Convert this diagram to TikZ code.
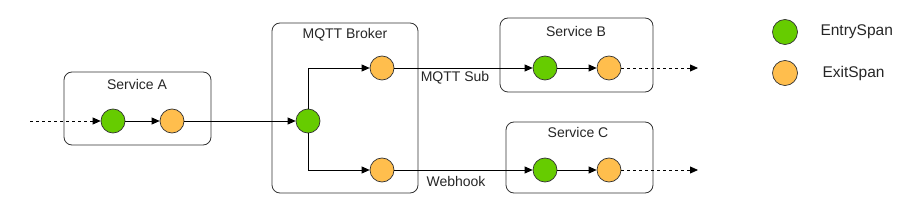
\documentclass[tikz,border=0pt]{standalone}
\usepackage{fontspec}
\setmainfont{Liberation Sans}
\usetikzlibrary{arrows.meta}
\definecolor{entryc}{HTML}{66CC00}
\definecolor{exitc}{HTML}{FFBE4D}
\begin{document}
\begin{tikzpicture}[x=1pt,y=-1pt,
  every node/.style={font=\fontsize{14}{16}\selectfont, text=black!85},
  legtext/.style={anchor=west, font=\fontsize{15.5}{18}\selectfont},
  svc/.style={draw=black!80, line width=0.8pt, rounded corners=8pt},
  entry/.style={circle, draw=black!80, line width=0.7pt, fill=entryc, minimum size=24pt, inner sep=0pt},
  exitsp/.style={circle, draw=black!80, line width=0.7pt, fill=exitc, minimum size=24pt, inner sep=0pt},
  conn/.style={draw=black, line width=0.8pt, -{Triangle[length=8pt,width=7pt]}},
  dconn/.style={conn, dashed, dash pattern=on 3pt off 3pt}]
\useasboundingbox (0,0) rectangle (905,211);
% boxes
\draw[svc] (64,72) rectangle (211,145);
\node at (137,84) {Service A};
\draw[svc] (272,23) rectangle (418,193);
\node at (345,35) {MQTT Broker};
\draw[svc] (500,18) rectangle (653,92);
\node at (576,31) {Service B};
\draw[svc] (506,122) rectangle (653,193);
\node at (578,132) {Service C};
% spans
\coordinate (start) at (30,121);
\node[entry] (ea) at (113,121) {};
\node[exitsp] (xa) at (172,121) {};
\node[entry] (eb) at (308,121) {};
\node[exitsp] (xb1) at (382,68) {};
\node[exitsp] (xb2) at (382,170) {};
\node[entry] (es) at (545,68) {};
\node[exitsp] (xs) at (609,68) {};
\node[entry] (ec) at (545,170) {};
\node[exitsp] (xc) at (609,170) {};
\coordinate (endb) at (698,68);
\coordinate (endc) at (698,170);
% connectors
\draw[dconn] (start) -- (ea);
\draw[conn] (ea) -- (xa);
\draw[conn] (xa) -- (eb);
\draw[conn] (eb.north) |- (xb1);
\draw[conn] (eb.south) |- (xb2);
\draw[conn] (xb1) -- (es);
\draw[conn] (xb2) -- (ec);
\draw[conn] (es) -- (xs);
\draw[conn] (ec) -- (xc);
\draw[dconn] (xs) -- (endb);
\draw[dconn] (xc) -- (endc);
\node (lsub) at (455,78) {MQTT Sub};
\node (lweb) at (456,181) {Webhook};
% legend
\node[entry, minimum size=25pt] (le) at (785,32) {};
\node[exitsp, minimum size=25pt] (lx) at (785,73) {};
\node[legtext] (lte) at (817,32) {EntrySpan};
\node[legtext] (ltx) at (819,73) {ExitSpan};
\end{tikzpicture}
\end{document}
